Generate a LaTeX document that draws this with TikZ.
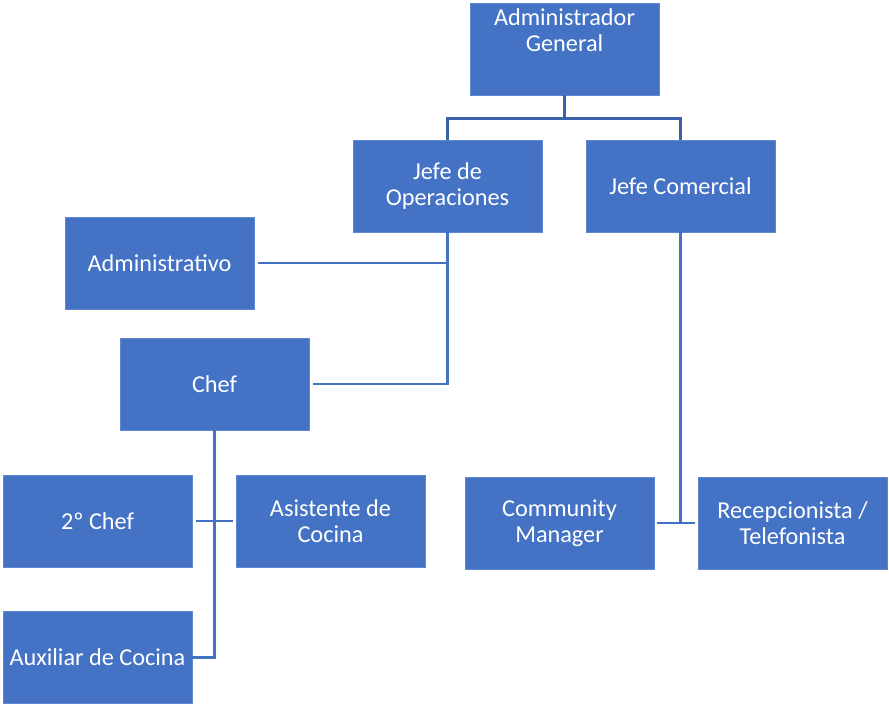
\documentclass[tikz,border=0pt]{standalone}
\usepackage{fontspec}
\setmainfont{Carlito}
\definecolor{boxblue}{HTML}{4472C4}
\definecolor{linedark}{HTML}{3A60AA}
\begin{document}
\begin{tikzpicture}[x=0.75pt,y=-0.75pt,
    puesto/.style={draw=boxblue!85!white,fill=boxblue,text=white,inner sep=0pt,
      minimum width=141.75pt,minimum height=69pt,align=center,
      font=\fontsize{18.2}{19.5}\selectfont},
    enlace/.style={draw=boxblue,line width=1.6pt},
    enlacetop/.style={draw=linedark,line width=2.2pt}]
  \useasboundingbox (0,0) rectangle (889,707);
  \node[puesto] (gen) at (564.5,49)
    {\parbox[c][69pt][t]{141pt}{\centering\vspace{4pt}Administrador\\General}};
  \node[puesto] (ops) at (447.5,186) {Jefe de\\Operaciones};
  \node[puesto] (com) at (680.5,186) {Jefe Comercial};
  \node[puesto] (adm) at (159.5,263) {Administrativo};
  \node[puesto] (chef) at (214.5,384) {Chef};
  \node[puesto] (sec) at (97.5,521) {2º Chef};
  \node[puesto] (asis) at (330.5,521) {Asistente de\\Cocina};
  \node[puesto] (aux) at (97.5,657.5) {Auxiliar de Cocina};
  \node[puesto] (cm) at (559.5,523) {Community\\Manager};
  \node[puesto] (rec) at (792.5,523) {Recepcionista /\\Telefonista};
  \coordinate (bus) at ([yshift=-17.25pt]gen.south);
  \draw[enlacetop] (gen.south) -- (bus);
  \draw[enlacetop] (ops.north) |- (bus) -| (com.north);
  \draw[enlace] (ops.south) |- ([xshift=3pt]chef.east);
  \draw[enlace] ([xshift=3pt]adm.east) -- (adm.east -| ops.south);
  \draw[enlace] (com.south) -- (com.south |- rec.west);
  \draw[enlace,shorten <=2pt,shorten >=2pt] (cm.east) -- (rec.west);
  \draw[enlace] (chef.south) |- (aux.east);
  \draw[enlace,shorten <=3pt,shorten >=2pt] (sec.east) -- (asis.west);
\end{tikzpicture}
\end{document}
